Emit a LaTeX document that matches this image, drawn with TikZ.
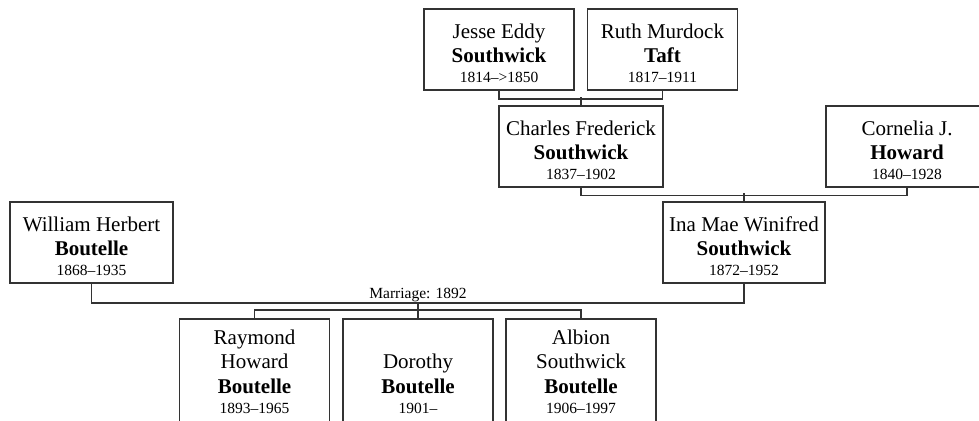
\documentclass[tikz,border=0pt]{standalone}
\usepackage{fontspec}
\setmainfont{Liberation Serif}
\definecolor{linec}{RGB}{51,51,51}
\newcommand{\datef}{\fontsize{15.5}{17}\selectfont}
\newcommand{\tstr}{\rule{0pt}{22pt}}
\tikzset{
  person/.style={draw=linec, line width=1.5pt, align=center, inner sep=1pt,
    font=\fontsize{21}{24.5}\selectfont, text=black},
  wide/.style={person, minimum width=163pt, minimum height=81pt},
  narrow/.style={person, minimum width=150pt, minimum height=81pt},
  child/.style={person, minimum width=150pt, minimum height=106pt, anchor=north},
  link/.style={draw=linec, line width=1.5pt},
  lbl/.style={font=\datef, inner sep=0pt, text=black}
}
\begin{document}
\begin{tikzpicture}[x=1pt, y=-1pt]
\useasboundingbox (0,0) rectangle (979,420);
\clip (0,0) rectangle (979,420);
% grandparents
\node[narrow] (jesse) at (499,49.5) {\tstr Jesse Eddy\\\textbf{Southwick}\\[-4.5pt]{\datef 1814–>1850}};
\node[narrow] (ruth) at (662.5,49.5) {\tstr Ruth Murdock\\\textbf{Taft}\\[-4.5pt]{\datef 1817–1911}};
% parents of Ina
\node[wide, minimum width=164pt] (charles) at (581,146.5) {\tstr Charles Frederick\\\textbf{Southwick}\\[-4.5pt]{\datef 1837–1902}};
\node[wide, minimum width=162pt] (cornelia) at (907,146.5) {\tstr Cornelia J.\\\textbf{Howard}\\[-4.5pt]{\datef 1840–1928}};
% couple
\node[wide] (william) at (91.5,242.5) {\tstr William Herbert\\\textbf{Boutelle}\\[-4.5pt]{\datef 1868–1935}};
\node[wide, minimum width=162pt] (ina) at (744,242.5) {\tstr Ina Mae Winifred\\\textbf{Southwick}\\[-4.5pt]{\datef 1872–1952}};
% children
\node[child] (raymond) at (254.5,318) {Raymond\\Howard\\\textbf{Boutelle}\\[-4.5pt]{\datef 1893–1965}};
\node[child] (dorothy) at (418,318) {\vphantom{Raymond}\\Dorothy\\\textbf{Boutelle}\\[-4.5pt]{\datef 1901–}};
\node[child] (albion) at (581,318) {Albion\\Southwick\\\textbf{Boutelle}\\[-4.5pt]{\datef 1906–1997}};
% connectors
\draw[link] (jesse.south) -- ++(0,8) -| (ruth.south);
\draw[link] (charles.north) -- ++(0,-8);
\draw[link] (charles.south) -- ++(0,7.5) -| (cornelia.south);
\draw[link] (ina.north) -- ++(0,-8.5);
\draw[link] (william.south) -- ++(0,19) -| (ina.south);
\node[lbl, anchor=base] (marriage) at (418,298) {Marriage: 1892};
\draw[link] (raymond.north) -- ++(0,-8) -| (albion.north);
\draw[link] (dorothy.north) -- ++(0,-16);
\end{tikzpicture}
\end{document}
